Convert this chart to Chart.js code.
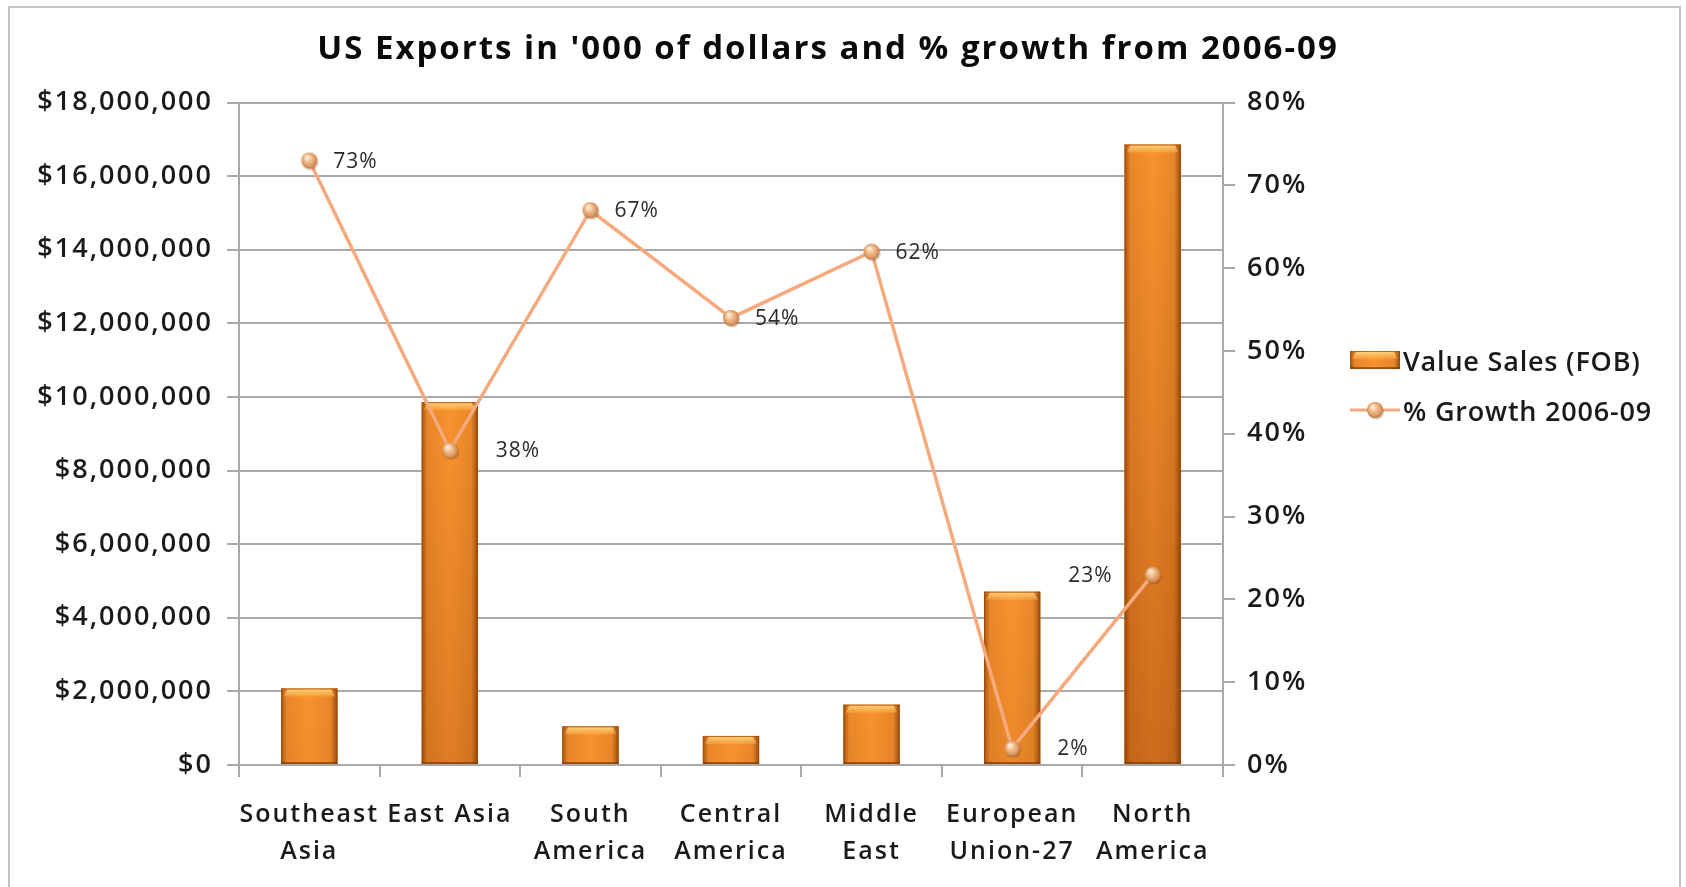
<!DOCTYPE html>
<html>
<head>
<meta charset="utf-8">
<title>US Exports</title>
<script src="https://cdn.jsdelivr.net/npm/chart.js@4.4.0/dist/chart.umd.min.js"></script>
<style>
  html, body { margin: 0; padding: 0; background: #fff; overflow: hidden; }
  #frame {
    position: absolute; left: 8px; top: 6px; width: 1673px; height: 900px;
    border: 2px solid #c4c4c4; box-sizing: border-box;
  }
  #chart { position: absolute; left: 0; top: 0; }
  #legend {
    position: absolute; left: 1350px; top: 335px;
    font-family: "Open Sans", sans-serif; font-size: 27px; font-weight: 600; color: #1a1a1a;
    letter-spacing: 0.8px;
  }
  .item { display: flex; align-items: center; height: 50px; }
  .item canvas { margin-right: 3px; }
</style>
</head>
<body>
<div id="frame"></div>
<canvas id="chart" width="1686" height="887"></canvas>
<div id="legend"></div>
<script>
// Regions and values
const regions = [
  ["Southeast", "Asia"],
  ["East Asia"],
  ["South", "America"],
  ["Central", "America"],
  ["Middle", "East"],
  ["European", "Union-27"],
  ["North", "America"],
];
const valueSales = [2080000, 9860000, 1050000, 790000, 1640000, 4710000, 16860000];
const growthPct = [73, 38, 67, 54, 62, 2, 23];

// Axis ranges
const salesMax = 18000000;
const salesStep = 2000000;
const growthMax = 80;
const growthStep = 10;

// Horizontal shift of each growth label from its point
const growthLabelShift = [24, 46, 24, 24, 24, 45, -40];

const FONT = "Open Sans";
const LINE_COLOR = "#f5a97c";
const GRID_COLOR = "#a9a9a9";
const TEXT_COLOR = "#1a1a1a";
const TEXT_SPACING = "2px";
const TITLE_SPACING = "2px";

// Orange bevelled bar, like the Office style
function paintBar(ctx, left, top, right, bottom) {
  const w = right - left;
  ctx.save();
  let g = ctx.createLinearGradient(0, top, 0, top + 650);
  g.addColorStop(0, "#f8932f");
  g.addColorStop(1, "#cc6a1b");
  ctx.fillStyle = g;
  ctx.fillRect(left, top, w, bottom - top);

  // darker side edges
  g = ctx.createLinearGradient(left, 0, right, 0);
  g.addColorStop(0, "rgba(120,50,0,0.65)");
  g.addColorStop(0.1, "rgba(120,50,0,0.12)");
  g.addColorStop(0.5, "rgba(120,50,0,0)");
  g.addColorStop(0.88, "rgba(120,50,0,0.12)");
  g.addColorStop(1, "rgba(110,45,0,0.7)");
  ctx.fillStyle = g;
  ctx.fillRect(left, top, w, bottom - top);

  // light bevel on top
  const bh = Math.min(8, (bottom - top) / 2);
  g = ctx.createLinearGradient(0, top, 0, top + bh);
  g.addColorStop(0, "rgba(255,222,140,0.95)");
  g.addColorStop(1, "rgba(255,190,90,0.35)");
  ctx.fillStyle = g;
  ctx.beginPath();
  ctx.moveTo(left + 2, top + bh);
  ctx.lineTo(left + 6, top + 1);
  ctx.lineTo(right - 6, top + 1);
  ctx.lineTo(right - 2, top + bh);
  ctx.closePath();
  ctx.fill();

  // dark bottom rim and outline
  ctx.fillStyle = "rgba(110,45,0,0.55)";
  ctx.fillRect(left, bottom - 2, w, 2);
  ctx.strokeStyle = "rgba(150,70,10,0.55)";
  ctx.lineWidth = 1;
  ctx.strokeRect(left + 0.5, top + 0.5, w - 1, bottom - top - 1);
  ctx.restore();
}

// Small shaded sphere used as the line marker
function makeBall(r) {
  const c = document.createElement("canvas");
  const s = Math.ceil(r * 2 + 4);
  c.width = s;
  c.height = s;
  const ctx = c.getContext("2d");
  const cx = s / 2, cy = s / 2;
  ctx.fillStyle = "rgba(90,50,20,0.25)";
  ctx.beginPath();
  ctx.arc(cx + 1, cy + 1.5, r, 0, Math.PI * 2);
  ctx.fill();
  const g = ctx.createRadialGradient(cx - r * 0.3, cy - r * 0.45, 0.5, cx, cy, r * 1.1);
  g.addColorStop(0, "#fff4e4");
  g.addColorStop(0.35, "#f3c596");
  g.addColorStop(0.75, "#dc9960");
  g.addColorStop(1, "#b0703e");
  ctx.fillStyle = g;
  ctx.beginPath();
  ctx.arc(cx, cy, r, 0, Math.PI * 2);
  ctx.fill();
  return c;
}

const ball = makeBall(8);

// Slightly looser text, as Office renders it
const textSpacing = {
  id: "textSpacing",
  beforeDraw(chart) {
    chart.ctx.letterSpacing = TEXT_SPACING;
  },
};

// Draw the bevelled look over each bar
const barStyle = {
  id: "barStyle",
  afterDatasetDraw(chart, args) {
    if (args.meta.type !== "bar") return;
    const ctx = chart.ctx;
    args.meta.data.forEach((bar) => {
      const p = bar.getProps(["x", "y", "base", "width"], true);
      paintBar(ctx, p.x - p.width / 2, p.y, p.x + p.width / 2, p.base);
    });
  },
};

// Percentage labels next to the growth points
const growthLabels = {
  id: "growthLabels",
  afterDatasetsDraw(chart) {
    const ctx = chart.ctx;
    chart.data.datasets.forEach((ds, i) => {
      if (ds.type !== "line") return;
      const meta = chart.getDatasetMeta(i);
      ctx.save();
      ctx.font = "21px '" + FONT + "', sans-serif";
      ctx.letterSpacing = "1px";
      ctx.fillStyle = "#2a2a2a";
      ctx.textBaseline = "middle";
      meta.data.forEach((pt, j) => {
        const shift = growthLabelShift[j];
        ctx.textAlign = shift < 0 ? "right" : "left";
        ctx.fillText(ds.data[j] + "%", pt.x + shift, pt.y + 1);
      });
      ctx.restore();
    });
  },
};

const axisFont = { family: FONT, size: 27, weight: 600 };
const categoryFont = { family: FONT, size: 25, weight: 600, lineHeight: 1.5 };

const ctx = document.getElementById("chart").getContext("2d");
const chart = new Chart(ctx, {
  type: "bar",
  data: {
    labels: regions,
    datasets: [
      {
        type: "bar",
        label: "Value Sales (FOB)",
        data: valueSales,
        backgroundColor: "#ee8427",
        borderWidth: 0,
        categoryPercentage: 1,
        barPercentage: 0.4,
        yAxisID: "y",
        order: 2,
      },
      {
        type: "line",
        label: "% Growth 2006-09",
        data: growthPct,
        borderColor: LINE_COLOR,
        borderWidth: 3.5,
        tension: 0,
        pointStyle: ball,
        yAxisID: "y1",
        order: 1,
      },
    ],
  },
  options: {
    responsive: false,
    animation: false,
    devicePixelRatio: 1,
    layout: { padding: { left: 0, right: 30, top: 0, bottom: 0 } },
    plugins: {
      legend: { display: false },
      tooltip: { enabled: false },
      title: {
        display: true,
        text: "US Exports in '000 of dollars and % growth from 2006-09",
        color: "#0a0a0a",
        font: { family: FONT, size: 33, weight: "bold", lineHeight: 1.2 },
        padding: { top: 30, bottom: 33 },
      },
    },
    scales: {
      x: {
        offset: true,
        grid: {
          offset: true,
          drawOnChartArea: false,
          tickLength: 12,
          color: GRID_COLOR,
          lineWidth: 2,
        },
        border: { color: GRID_COLOR, width: 2 },
        ticks: {
          color: TEXT_COLOR,
          font: categoryFont,
          maxRotation: 0,
          autoSkip: false,
          padding: 19,
        },
        afterFit(scale) { scale.height = 122; },
      },
      y: {
        position: "left",
        min: 0,
        max: salesMax,
        grid: { color: GRID_COLOR, lineWidth: 2, tickLength: 12 },
        border: { color: GRID_COLOR, width: 2 },
        ticks: {
          stepSize: salesStep,
          color: TEXT_COLOR,
          font: axisFont,
          padding: 14,
          callback: (v) => "$" + v.toLocaleString("en-US"),
        },
        afterFit(scale) { scale.width = 239; },
      },
      y1: {
        position: "right",
        min: 0,
        max: growthMax,
        grid: { drawOnChartArea: false, color: GRID_COLOR, lineWidth: 2, tickLength: 12 },
        border: { color: GRID_COLOR, width: 2 },
        ticks: {
          stepSize: growthStep,
          color: TEXT_COLOR,
          font: axisFont,
          padding: 12,
          callback: (v) => v + "%",
        },
        afterFit(scale) { scale.width = 433; },
      },
    },
  },
  plugins: [textSpacing, barStyle, growthLabels],
});

// The title gets its own spacing
const titleBox = chart.titleBlock;
const drawTitle = titleBox.draw.bind(titleBox);
titleBox.draw = function () {
  chart.ctx.letterSpacing = TITLE_SPACING;
  drawTitle();
  chart.ctx.letterSpacing = TEXT_SPACING;
};
chart.draw();

// Legend built from the datasets
const legend = document.getElementById("legend");
chart.data.datasets.forEach((ds) => {
  const item = document.createElement("div");
  item.className = "item";
  const sw = document.createElement("canvas");
  sw.width = 50;
  sw.height = 22;
  const sctx = sw.getContext("2d");
  if (ds.type === "bar") {
    paintBar(sctx, 0, 2, 50, 20);
  } else {
    sctx.strokeStyle = LINE_COLOR;
    sctx.lineWidth = 3;
    sctx.beginPath();
    sctx.moveTo(0, 11);
    sctx.lineTo(50, 11);
    sctx.stroke();
    sctx.drawImage(ball, 25 - ball.width / 2, 11 - ball.height / 2);
  }
  const txt = document.createElement("span");
  txt.textContent = ds.label;
  item.appendChild(sw);
  item.appendChild(txt);
  legend.appendChild(item);
});
</script>
</body>
</html>
